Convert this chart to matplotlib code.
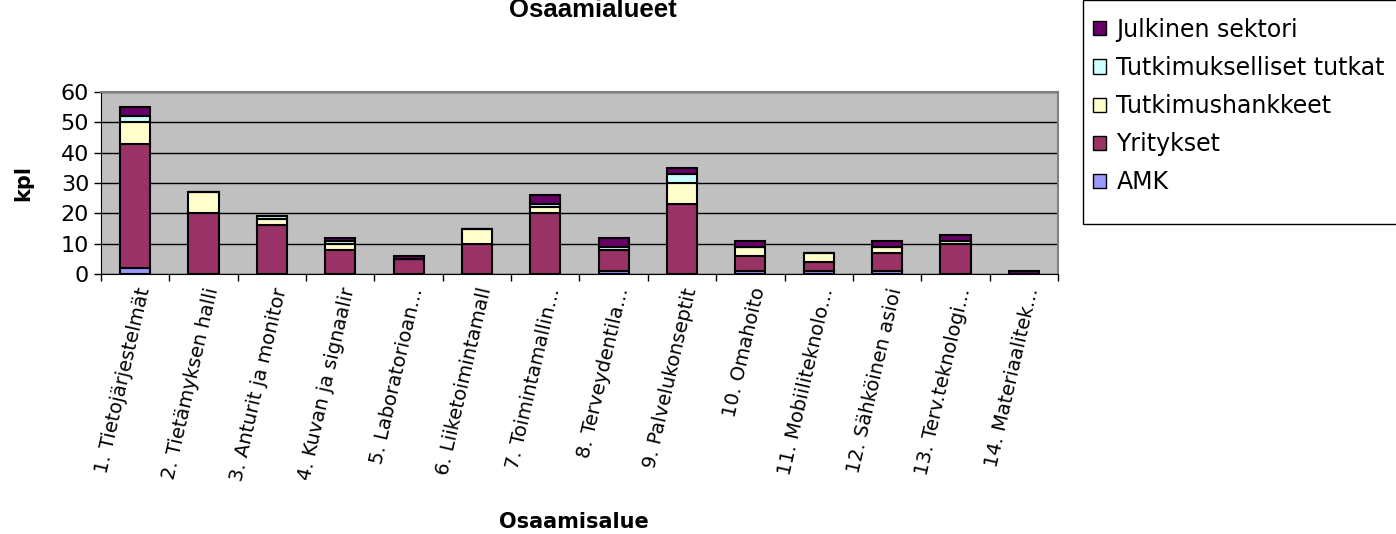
import matplotlib
matplotlib.use('Agg')
import matplotlib.pyplot as plt
import matplotlib.transforms as mtransforms
from matplotlib.patches import Rectangle
import numpy as np

# osaamisalueet (katkaistut nimet kuten alkuperäisessä)
categories = ['1. Tietojärjestelmät', '2. Tietämyksen halli', '3. Anturit ja monitor',
              '4. Kuvan ja signaalir', '5. Laboratorioan...', '6. Liiketoimintamall',
              '7. Toimintamallin...', '8. Terveydentila...', '9. Palvelukonseptit',
              '10. Omahoito', '11. Mobiiliteknolo...', '12. Sähköinen asioi',
              '13. Terv.teknologi...', '14. Materiaalitek...']

amk = [2, 0, 0, 0, 0, 0, 0, 1, 0, 1, 1, 1, 0, 0]
yritykset = [41, 20, 16, 8, 5, 10, 20, 7, 23, 5, 3, 6, 10, 0]
tutkimushankkeet = [7, 7, 2, 2, 0, 5, 2, 0, 7, 3, 3, 2, 1, 0]
tutkimukselliset = [2, 0, 1, 1, 0, 0, 1, 1, 3, 0, 0, 0, 0, 0]
julkinen = [3, 0, 0, 1, 1, 0, 3, 3, 2, 2, 0, 2, 2, 1]

series = [
    ('AMK', amk, '#9999FF'),
    ('Yritykset', yritykset, '#993366'),
    ('Tutkimushankkeet', tutkimushankkeet, '#FFFFCC'),
    ('Tutkimukselliset tutkat', tutkimukselliset, '#CCFFFF'),
    ('Julkinen sektori', julkinen, '#660066'),
]

fig = plt.figure(figsize=(13.96, 5.34), dpi=100)
ax = fig.add_axes([101 / 1396, 1 - 274 / 534, 957 / 1396, 182 / 534])
ax.set_facecolor('#C0C0C0')

x = np.arange(len(categories))
bottom = np.zeros(len(categories))
handles = []
for name, vals, color in series:
    b = ax.bar(x, vals, 0.44, bottom=bottom, color=color, edgecolor='black',
               linewidth=1.5, label=name, zorder=3)
    handles.append(b)
    bottom += np.array(vals)

ax.set_xlim(-0.5, len(categories) - 0.5)
ax.set_ylim(0, 60)
ax.set_yticks(range(0, 61, 10))
ax.tick_params(axis='y', labelsize=16, length=5, width=1, direction='out')
ax.yaxis.grid(True, color='black', linewidth=1, zorder=0)
ax.set_axisbelow(True)

# tikit luokkien rajoilla, nimet keskellä
ax.set_xticks(np.arange(-0.5, len(categories), 1))
ax.set_xticklabels([])
ax.tick_params(axis='x', which='major', length=5, width=1, direction='out')
ax.set_xticks(x, minor=True)
ax.set_xticklabels(categories, minor=True, rotation=77, ha='right', va='center',
                   rotation_mode='anchor', fontsize=14)
ax.tick_params(axis='x', which='minor', length=0, pad=10)
offset = mtransforms.ScaledTranslation(0.09, 0, fig.dpi_scale_trans)
for lbl in ax.get_xticklabels(minor=True):
    lbl.set_transform(lbl.get_transform() + offset)

for side in ['top', 'right']:
    ax.spines[side].set_color('#808080')
    ax.spines[side].set_linewidth(1.5)
for side in ['left', 'bottom']:
    ax.spines[side].set_color('black')

ax.set_ylabel('kpl', fontsize=15, fontweight='bold', labelpad=20)
fig.text(574 / 1396, 1 - 522 / 534, 'Osaamisalue', fontsize=15, fontweight='bold',
         ha='center', va='center')
fig.text(593 / 1396, 1 - 17 / 534, 'Osaamialueet', fontsize=18.5, fontweight='bold',
         family='Liberation Sans', ha='center', va='baseline')

# selitteen kehys erikseen
fig.patches.append(Rectangle((1083 / 1396, 1 - 224 / 534), 330 / 1396, 224 / 534,
                             transform=fig.transFigure, facecolor='white',
                             edgecolor='black', linewidth=1, zorder=0))
leg = fig.legend(handles[::-1], [s[0] for s in series][::-1], loc='upper left',
                 bbox_to_anchor=(1088 / 1396, 1 - 13 / 534), fontsize=17, frameon=False,
                 handlelength=0.55, handleheight=0.55, handletextpad=0.45,
                 labelspacing=0.6, borderpad=0.2, borderaxespad=0)
for h in leg.legend_handles:
    h.set_linewidth(1)

fig.savefig('out.png', dpi=100)
